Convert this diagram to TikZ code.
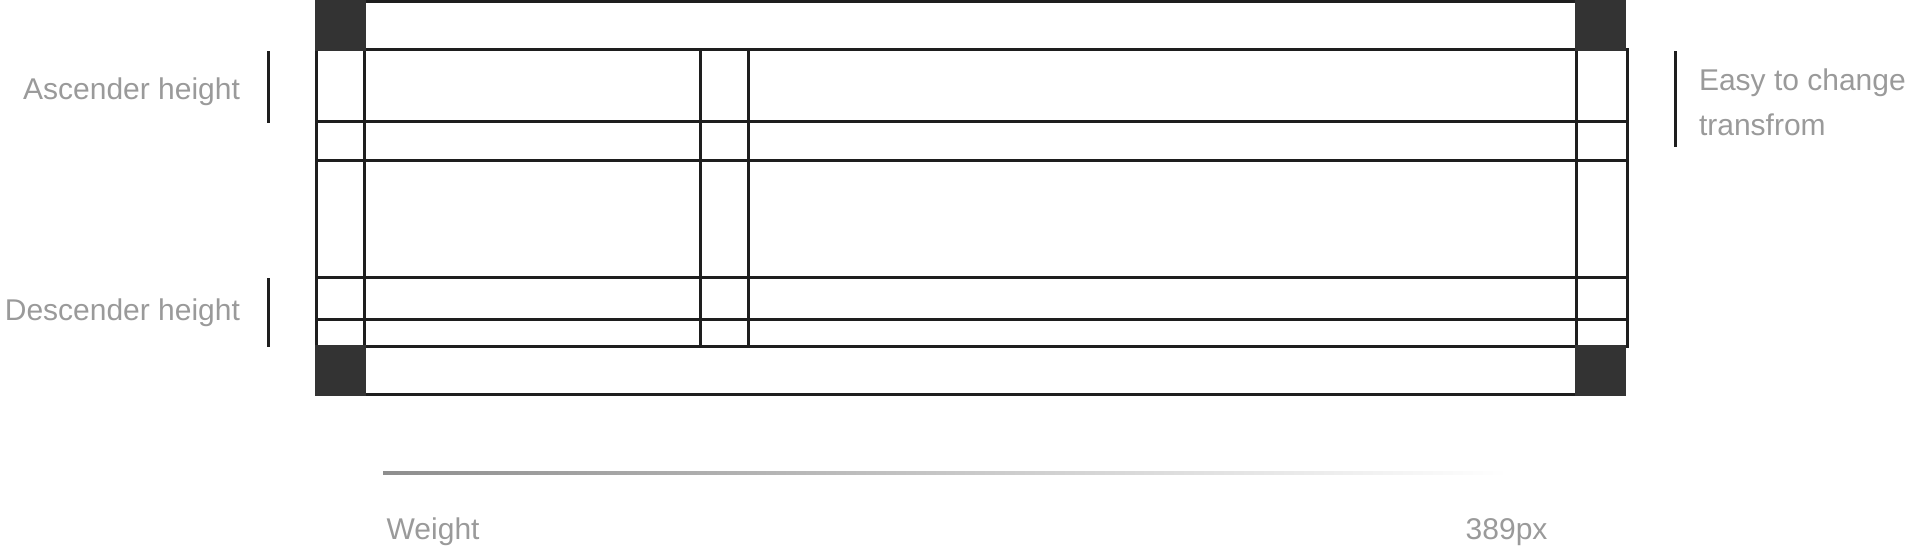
\documentclass[tikz,border=0pt]{standalone}
\usepackage{fontspec}
\setmainfont{Liberation Sans}
\definecolor{gridline}{HTML}{1E1E1E}
\definecolor{corner}{HTML}{333333}
\definecolor{labelgray}{HTML}{9A9A9A}
\definecolor{rulegray}{HTML}{8E8E8E}
\tikzset{
  gridrule/.style={draw=gridline, line width=3pt, line cap=rect},
  cornerbox/.style={fill=corner},
  sidebar/.style={draw=gridline, line width=3pt},
  lbl/.style={text=labelgray, font=\fontsize{30}{36}\selectfont, inner sep=0pt, outer sep=0pt},
}
\begin{document}
\begin{tikzpicture}[x=1pt,y=-1pt]
\useasboundingbox (0,0) rectangle (1908,552);
% top and bottom boxes
\draw[gridrule, line cap=butt] (315,1.5) -- (1626,1.5);
\draw[gridrule, line cap=butt] (315,394.5) -- (1626,394.5);
% horizontal grid lines
\foreach \y in {49.5,121.5,160.5,277.5,319.5,346.5}
  \draw[gridrule, line cap=butt] (315,\y) -- (1629,\y);
% vertical grid lines
\foreach \x in {316.5,364.2,700.5,748.5,1576.5,1627.5}
  \draw[gridrule, line cap=butt] (\x,48) -- (\x,348);
% corner squares
\fill[cornerbox] (315,0) rectangle (365.7,50.5);
\fill[cornerbox] (1575,0) rectangle (1626,50.5);
\fill[cornerbox] (315,345) rectangle (365.7,396);
\fill[cornerbox] (1575,345) rectangle (1626,396);
% side bars
\draw[sidebar] (268.5,51) -- (268.5,123);
\draw[sidebar] (268.5,278) -- (268.5,347);
\draw[sidebar] (1675.5,51) -- (1675.5,147);
% labels
\node[lbl, anchor=base east] (asc) at (240,99.3) {Ascender height};
\node[lbl, anchor=base east] (desc) at (240,320) {Descender height};
\node[lbl, anchor=base west] (easy) at (1699,90) {Easy to change};
\node[lbl, anchor=base west] (trans) at (1699,135) {transfrom};
% weight rule
\shade[left color=rulegray, right color=white] (383,471) rectangle (1507,474);
\node[lbl, anchor=base west] (weight) at (386.7,539.3) {Weight};
\node[lbl, anchor=base west] (px) at (1465.7,539.3) {389px};
\end{tikzpicture}
\end{document}
